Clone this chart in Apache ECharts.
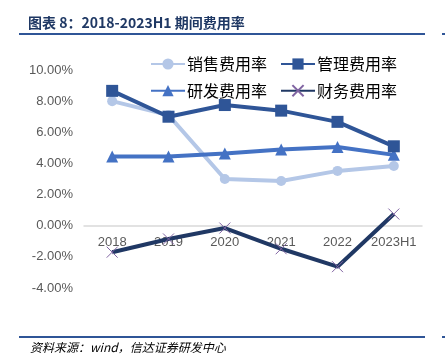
<!DOCTYPE html>
<html><head><meta charset="utf-8">
<script src="https://cdn.jsdelivr.net/npm/echarts@6/dist/echarts.min.js"></script>
<style>html,body{margin:0;padding:0;background:#fff;}#c{width:445px;height:364px;}</style>
</head><body><div id="c"></div>
<script>
const categories = ['2018','2019','2020','2021','2022','2023H1'];
const salesRate = [8.0, 7.1, 3.0, 2.87, 3.52, 3.84];
const mgmtRate = [8.66, 7.0, 7.75, 7.39, 6.67, 5.1];
const rdRate = [4.45, 4.45, 4.63, 4.9, 5.05, 4.55];
const finRate = [-1.7, -0.85, -0.15, -1.48, -2.63, 0.75];
const yTicks = {min: -4, max: 10, interval: 2};

const chart = echarts.init(document.getElementById('c'));
const font = '"Noto Sans CJK SC", "Noto Sans", sans-serif';
const xPath = 'path://M0,0L10,10M10,0L0,10';
const gridTop = 70, gridBottom = 76, H = 364;
const plotH = H - gridTop - gridBottom;
const zeroOffset = -plotH * (0 - yTicks.min) / (yTicks.max - yTicks.min);
chart.setOption({
  animation: false,
  grid: {left: 84, right: 23, top: gridTop, bottom: gridBottom},
  graphic: [
    {type: 'text', left: 28, top: 16, style: {text: '图表 8：2018-2023H1 期间费用率', fill: '#1f3864', font: 'bold 14px ' + font}},
    {type: 'line', shape: {x1: 19, y1: 34, x2: 425, y2: 34}, style: {stroke: '#2f5597', lineWidth: 2}},
    {type: 'line', shape: {x1: 442, y1: 34, x2: 445, y2: 34}, style: {stroke: '#2f5597', lineWidth: 2}},
    {type: 'line', shape: {x1: 19, y1: 337, x2: 425, y2: 337}, style: {stroke: '#2f5597', lineWidth: 2}},
    {type: 'line', shape: {x1: 442, y1: 337, x2: 445, y2: 337}, style: {stroke: '#2f5597', lineWidth: 2}},
    {type: 'text', left: 30, top: 341, style: {text: '资料来源：wind，信达证券研发中心', fill: '#000', font: 'italic 12px ' + font}}
  ],
  legend: [
    {data: ['销售费用率', '研发费用率'], left: 150, top: 56, padding: 0, orient: 'vertical', itemWidth: 34, itemHeight: 14, itemGap: 10.7,
     textStyle: {fontSize: 16, color: '#000', fontFamily: font, padding: [0,0,0,-3]}},
    {data: ['管理费用率', '财务费用率'], left: 280, top: 56, padding: 0, orient: 'vertical', itemWidth: 34, itemHeight: 14, itemGap: 10.7,
     textStyle: {fontSize: 16, color: '#000', fontFamily: font, padding: [0,0,0,-3]}}
  ],
  xAxis: {
    type: 'category', data: categories, boundaryGap: true, position: 'bottom', offset: zeroOffset,
    axisLine: {onZero: false, lineStyle: {color: '#d9d9d9', width: 1.5}},
    axisTick: {show: false},
    axisLabel: {interval: 0, color: '#595959', fontSize: 13, margin: 10, fontFamily: 'Liberation Sans, Arial, sans-serif'}
  },
  yAxis: {
    type: 'value', min: yTicks.min, max: yTicks.max, interval: yTicks.interval,
    splitLine: {show: false}, axisLine: {show: false}, axisTick: {show: false},
    axisLabel: {color: '#595959', fontSize: 13, margin: 11, fontFamily: 'Liberation Sans, Arial, sans-serif',
      formatter: v => v.toFixed(2) + '%'}
  },
  series: [
    {name: '销售费用率', type: 'line', data: salesRate, symbol: 'circle', symbolSize: 10,
     lineStyle: {color: '#b4c7e7', width: 4}, itemStyle: {color: '#b4c7e7'}, z: 2},
    {name: '管理费用率', type: 'line', data: mgmtRate, symbol: 'rect', symbolSize: 12,
     lineStyle: {color: '#2f5597', width: 4}, itemStyle: {color: '#2f5597'}, z: 3},
    {name: '研发费用率', type: 'line', data: rdRate, symbol: 'triangle', symbolSize: 12,
     lineStyle: {color: '#4472c4', width: 4}, itemStyle: {color: '#4472c4'}, z: 2},
    {name: '财务费用率', type: 'line', data: finRate, symbol: xPath, symbolSize: 11,
     lineStyle: {color: '#203864', width: 4}, itemStyle: {color: 'rgba(0,0,0,0)', borderColor: '#8064a2', borderWidth: 1}, z: 4}
  ]
});
</script></body></html>
